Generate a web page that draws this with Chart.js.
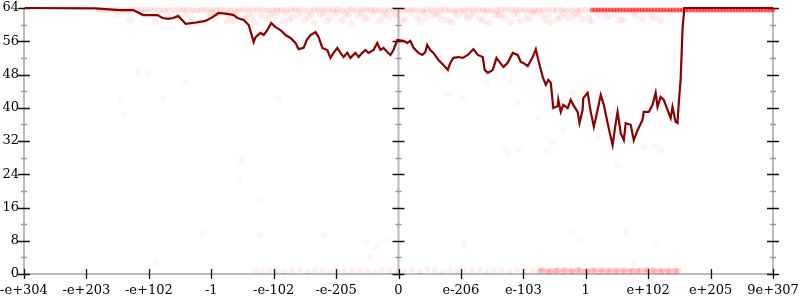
<!DOCTYPE html>
<html>
<head>
<meta charset="utf-8">
<script src="https://cdn.jsdelivr.net/npm/chart.js@4.4.0/dist/chart.umd.min.js"></script>
<style>
  html, body { margin: 0; padding: 0; background: #fff; }
  #chart { display: block; }
</style>
</head>
<body>
<canvas id="chart" width="800" height="300"></canvas>
<script>
// x axis is an ordinal float-bits scale: one tick per unit
const xTickValues = [-6, -5, -4, -3, -2, -1, 0, 1, 2, 3, 4, 5, 6];
const xTickLabels = ['-e+304', '-e+203', '-e+102', '-1', '-e-102', '-e-205', '0', 'e-206', 'e-103', '1', 'e+102', 'e+205', '9e+307'];
const yTickValues = [0, 8, 16, 24, 32, 40, 48, 56, 64];
const yMinorValues = [4, 12, 20, 28, 36, 44, 52, 60];

// main (dark red) curve
const lineX = [-5.99, -4.86, -4.46, -4.25, -4.09, -3.86, -3.78, -3.69, -3.61, -3.53, -3.41, -3.29, -3.09, -2.98, -2.88, -2.74, -2.64, -2.58,
  -2.48, -2.40, -2.32, -2.29, -2.21, -2.16, -2.10, -2.04, -1.97, -1.89, -1.81, -1.73, -1.65, -1.60, -1.52, -1.47, -1.41, -1.33, -1.28,
  -1.22, -1.14, -1.09, -1.04, -0.98, -0.93, -0.88, -0.82, -0.77, -0.69, -0.64, -0.58, -0.53, -0.48, -0.40, -0.34, -0.29, -0.24, -0.18,
  -0.13, -0.08, -0.02, 0.08, 0.14, 0.19, 0.24, 0.32, 0.38, 0.43, 0.46, 0.51, 0.56, 0.64, 0.72, 0.79, 0.83, 0.88, 0.96, 1.03, 1.11,
  1.20, 1.27, 1.35, 1.38, 1.43, 1.51, 1.57, 1.63, 1.68, 1.75, 1.83, 1.91, 1.96, 2.00, 2.07, 2.15, 2.20, 2.24, 2.31, 2.36, 2.40, 2.44,
  2.48, 2.55, 2.56, 2.60, 2.64, 2.71, 2.76, 2.80, 2.87, 2.90, 2.95, 2.96, 3.03, 3.08, 3.13, 3.19, 3.24, 3.29, 3.35, 3.40, 3.43, 3.48,
  3.51, 3.56, 3.61, 3.64, 3.72, 3.77, 3.83, 3.91, 3.93, 4.01, 4.07, 4.12, 4.15, 4.20, 4.25, 4.31, 4.36, 4.39, 4.44, 4.47, 4.49, 4.52,
  4.55, 4.58, 6.0];
const lineY = [64.0, 63.9, 63.5, 63.5, 62.3, 62.3, 61.6, 61.4, 61.6, 62.1, 60.2, 60.4, 60.9, 61.8, 62.8, 62.6, 62.3, 61.6,
  61.1, 59.9, 55.8, 57.0, 58.0, 57.5, 58.7, 60.4, 59.4, 58.7, 57.5, 56.8, 55.6, 54.1, 54.4, 56.3, 57.5, 58.2, 57.0,
  54.4, 53.9, 52.0, 53.2, 54.4, 53.2, 52.2, 53.2, 52.0, 53.2, 52.2, 53.2, 53.9, 53.2, 53.9, 55.6, 53.9, 54.4, 53.4,
  52.7, 53.9, 56.3, 56.1, 55.6, 56.1, 54.4, 53.2, 52.7, 53.4, 55.1, 53.9, 53.2, 51.5, 50.3, 49.1, 50.8, 52.0, 52.2, 52.0, 52.7,
  54.1, 52.7, 52.2, 49.1, 48.4, 49.1, 52.0, 50.8, 49.8, 50.8, 53.2, 52.7, 51.0, 50.8, 50.0, 52.2, 54.1, 51.5, 47.4, 45.5, 46.7, 46.0,
  39.9, 40.4, 41.9, 39.0, 40.7, 39.9, 41.9, 40.7, 39.0, 36.3, 39.5, 42.3, 43.6, 39.0, 35.4, 39.5, 43.1, 40.7, 36.3, 33.0, 31.0, 36.3,
  39.0, 33.9, 32.2, 36.3, 35.9, 32.2, 34.6, 37.1, 39.0, 39.0, 40.7, 43.6, 40.2, 42.6, 41.9, 39.5, 37.5, 40.2, 36.6, 36.3, 41.1, 46.7,
  58.7, 64.0, 64.0];

// faint samples just under the top
const cloudX = [-4.5, -4.3, -4.1, -3.9, -3.7, -3.55, -3.4, -3.2, -3.05, -2.9, -2.75, -2.6, -2.45, -2.3, -2.2, -2.1, -1.95, -1.85, -1.7,
  -1.6, -1.5, -1.35, -1.25, -1.1, -1.0, -0.9, -0.75, -0.65, -0.5, -0.4, -0.3, -0.15, -0.05, 0.1, 0.2, 0.35, 0.45, 0.6, 0.7, 0.85,
  0.95, 1.1, 1.2, 1.35, 1.45, 1.6, 1.7, 1.85, 1.95, 2.1, 2.2, 2.35, 2.45, 2.6, 2.7, 2.85, 2.95, 3.1, 3.2, 3.35, 3.45, 3.6, 3.75,
  3.9, 4.05, 4.2, 4.35,
  -3.3, -2.95, -2.65, -2.35, -2.05, -1.75, -1.45, -1.15, -0.85, -0.55, -0.25, 0.05, 0.3, 0.55, 0.8, 1.05, 1.3, 1.55, 1.8, 2.05,
  2.3, 2.55, 2.8, 3.05, 3.3, 3.55, 3.8, 4.1,
  -3.0, -2.7, -2.4, -2.0, -1.8, -1.4, -1.2, -0.8, -0.6, -0.2, 0.0, 0.4, 0.65, 0.9, 1.15, 1.4, 1.65, 1.9, 2.15, 2.4, 2.65, 2.9];
const cloudY = [62.6, 61.2, 62.9, 60.8, 62.1, 61.6, 62.8, 60.5, 61.9, 62.4, 61.0, 62.7, 61.5, 60.6, 62.2, 61.4, 62.9, 60.9, 61.8,
  62.5, 61.1, 60.4, 62.3, 61.7, 62.8, 61.0, 60.3, 62.1, 61.6, 62.7, 60.8, 61.9, 62.4, 61.3, 62.8, 60.7, 61.8, 62.5, 61.2, 60.6,
  62.2, 61.5, 62.9, 61.0, 60.4, 62.3, 61.7, 62.6, 60.9, 61.4, 62.8, 61.1, 60.5, 62.0, 61.6, 62.7, 61.3, 60.8, 62.4, 61.9, 62.6,
  61.2, 62.9, 61.5, 62.2, 61.0, 62.6,
  61.4, 62.2, 60.7, 61.9, 62.6, 61.2, 62.0, 60.9, 62.5, 61.5, 62.1, 60.8, 61.7, 62.4, 61.1, 62.7, 61.6, 62.3, 60.6, 61.8,
  62.5, 61.3, 62.0, 61.6, 62.8, 61.1, 62.2, 61.7,
  62.9, 62.0, 62.7, 61.7, 62.9, 62.4, 62.8, 62.2, 62.9, 62.6, 62.3, 62.9, 62.5, 62.8, 62.1, 62.9, 62.4, 62.7, 62.9, 62.3, 62.8, 62.5];

// thin rim of samples right at the top edge
const rimX = [-4.8, -4.65, -4.5, -4.35, -4.2, -4.05, -3.9, -3.75, -3.6, -3.45, -3.3, -3.15, -3.0, -2.85, -2.7, -2.55, -2.4, -2.25,
  -2.1, -1.95, -1.8, -1.65, -1.5, -1.35, -1.2, -1.05, -0.9, -0.75, -0.6, -0.45, -0.3, -0.15, 0.0, 0.15, 0.3, 0.45, 0.6, 0.75, 0.9,
  1.05, 1.2, 1.35, 1.5, 1.65, 1.8, 1.95, 2.1, 2.25, 2.4, 2.55, 2.7, 2.85, 3.0,
  -4.72, -4.58, -4.42, -4.28, -4.12, -3.98, -3.82, -3.68, -3.52, -3.38, -3.22, -3.08, -2.92, -2.78, -2.62, -2.48, -2.32, -2.18,
  -2.02, -1.88, -1.72, -1.58, -1.42, -1.28, -1.12, -0.98, -0.82, -0.68, -0.52, -0.38, -0.22, -0.08, 0.08, 0.22, 0.38, 0.52, 0.68,
  0.82, 0.98, 1.12, 1.28, 1.42, 1.58, 1.72, 1.88, 2.02, 2.18, 2.32, 2.48, 2.62, 2.78, 2.92];
const rimY = [63.6, 63.5, 63.6, 63.4, 63.6, 63.5, 63.6, 63.4, 63.5, 63.6, 63.4, 63.6, 63.5, 63.6, 63.4, 63.5, 63.6, 63.5,
  63.4, 63.6, 63.5, 63.6, 63.4, 63.5, 63.6, 63.5, 63.4, 63.6, 63.5, 63.6, 63.4, 63.5, 63.6, 63.5, 63.4, 63.6, 63.5, 63.6, 63.4,
  63.5, 63.6, 63.5, 63.4, 63.6, 63.5, 63.6, 63.4, 63.5, 63.6, 63.5, 63.4, 63.6, 63.5,
  63.5, 63.6, 63.4, 63.5, 63.6, 63.5, 63.4, 63.6, 63.5, 63.6, 63.4, 63.5, 63.6, 63.5, 63.4, 63.6, 63.5, 63.6,
  63.4, 63.5, 63.6, 63.5, 63.4, 63.6, 63.5, 63.6, 63.4, 63.5, 63.6, 63.5, 63.4, 63.6, 63.5, 63.6, 63.4, 63.5, 63.6,
  63.5, 63.4, 63.6, 63.5, 63.6, 63.4, 63.5, 63.6, 63.5, 63.4, 63.6, 63.5, 63.6, 63.4, 63.5];
const edgeX = [3.1, 3.15, 3.2, 3.25, 3.3, 3.35, 3.4, 3.45, 3.5, 3.55, 3.6, 3.65, 3.7, 3.75, 3.8, 3.85, 3.9, 3.95, 4.0, 4.05, 4.1,
  4.15, 4.2, 4.25, 4.3, 4.35, 4.4, 4.45, 4.5, 4.55, 4.6, 4.65, 4.7, 4.75, 4.8, 4.85, 4.9, 4.95, 5.0, 5.05, 5.1, 5.15, 5.2, 5.25,
  5.3, 5.35, 5.4, 5.45, 5.5, 5.55, 5.6, 5.65, 5.7, 5.75, 5.8, 5.85, 5.9, 5.95, 6.0];
const edgeY = [63.5, 63.5, 63.5, 63.5, 63.5, 63.5, 63.5, 63.5, 63.5, 63.5, 63.5, 63.5, 63.5, 63.5, 63.5, 63.5, 63.5, 63.5, 63.5,
  63.5, 63.5, 63.5, 63.5, 63.5, 63.5, 63.5, 63.5, 63.5, 63.5, 63.5, 63.5, 63.5, 63.5, 63.5, 63.5, 63.5, 63.5, 63.5, 63.5, 63.5,
  63.5, 63.5, 63.5, 63.5, 63.5, 63.5, 63.5, 63.5, 63.5, 63.5, 63.5, 63.5, 63.5, 63.5, 63.5, 63.5, 63.5, 63.5, 63.5];

// samples along the bottom
const bottomX = [-2.3, -2.18, -2.06, -1.94, -1.82, -1.7, -1.58, -1.46, -1.34, -1.22, -1.1, -0.98, -0.86, -0.74, -0.62, -0.5, -0.38,
  -0.26, -0.14, -0.02, 0.1, 0.22, 0.34, 0.46, 0.58, 0.7, 0.82, 0.94, 1.06, 1.18, 1.3, 1.42, 1.54, 1.66, 1.78, 1.9, 2.02, 2.14];
const bottomY = [0.8, 0.6, 0.9, 0.7, 0.5, 0.8, 0.9, 0.6, 0.7, 0.9, 0.5, 0.8, 0.6, 0.9, 0.7, 0.8, 0.5, 0.9, 0.6, 0.8, 0.7,
  0.9, 0.6, 1.1, 0.8, 0.5, 0.9, 0.7, 0.6, 0.8, 0.9, 0.5, 0.7, 0.8, 0.6, 0.9, 0.7, 0.8];
const bottomDenseX = [2.26, 2.32, 2.38, 2.44, 2.5, 2.56, 2.62, 2.68, 2.74, 2.8, 2.86, 2.92, 2.98, 3.04, 3.1, 3.16, 3.22, 3.28,
  3.34, 3.4, 3.46, 3.52, 3.58, 3.64, 3.7, 3.76, 3.82, 3.88, 3.94, 4.0, 4.06, 4.12, 4.18, 4.24, 4.3, 4.36, 4.42, 4.48,
  2.29, 2.41, 2.53, 2.65, 2.77, 2.89, 3.01, 3.13, 3.25, 3.37, 3.49, 3.61, 3.73, 3.85, 3.97, 4.09, 4.21, 4.33, 4.45];
const bottomDenseY = [0.7, 0.9, 0.6, 0.8, 0.7, 0.9, 0.5, 0.8, 0.7, 0.6, 0.9, 0.8, 0.6, 0.7, 0.9, 0.8, 0.5, 0.7, 0.8, 0.9,
  0.6, 0.7, 0.8, 0.9, 0.6, 0.8, 0.7, 0.9, 0.5, 0.8, 0.7, 0.6, 0.9, 0.8, 0.7, 0.6, 0.8, 0.7,
  0.9, 0.6, 0.8, 1.0, 0.7, 0.9, 0.6, 0.8, 1.0, 0.7, 0.9, 0.6, 0.8, 0.7, 1.0, 0.9, 0.6, 0.8, 0.7];

// scattered stray samples
const strayX = [-4.18, -4.01, -3.41, -3.78, -1.92, 1.79, 1.41, 0.80, 1.03, -3.14, -3.89, -2.21, -1.20, -0.50, -0.37, -0.45, -0.18,
  1.03, 1.06, 2.76, 3.64, 2.92, 4.13, 3.77, 1.91, 2.23, 2.64, 2.47, 1.67, 1.76, 1.92, 2.36, 2.79, 3.19, 3.93, 4.12, 4.20, 3.51,
  -4.46, -4.39, -2.53, -2.56, -2.24];
const strayY = [48.6, 48.4, 46.2, 42.3, 42.3, 46.4, 46.0, 43.1, 42.6, 10.1, 2.6, 9.4, 9.4, 7.5, 6.5, 4.3, 8.2,
  7.5, 6.5, 10.1, 10.1, 8.2, 7.5, 2.6, 41.1, 37.5, 34.6, 31.5, 30.3, 29.1, 29.8, 29.6, 43.6, 33.0, 30.6, 31.0, 29.6, 26.2,
  41.9, 38.5, 27.4, 22.6, 17.8];

const pts = (xs, ys) => xs.map((x, i) => ({ x, y: ys[i] }));

const cloudSet = (data, alpha, radius, order) => ({
  type: 'scatter',
  data,
  pointRadius: radius,
  pointBorderWidth: 0,
  pointBackgroundColor: `rgba(255,0,0,${alpha})`,
  pointBorderColor: 'transparent',
  clip: false,
  order,
});

const axesPlugin = {
  id: 'axesPlugin',
  beforeDatasetsDraw(chart) {
    const { ctx, chartArea: a, scales } = chart;
    const sx = scales.x, sy = scales.y;
    const axisXs = [sx.getPixelForValue(-6), sx.getPixelForValue(0), sx.getPixelForValue(6)];
    const yBottom = sy.getPixelForValue(0);
    ctx.save();

    // gray axis lines
    ctx.strokeStyle = '#bbbbbb';
    ctx.lineWidth = 2;
    ctx.beginPath();
    axisXs.forEach(px => { ctx.moveTo(px, a.top); ctx.lineTo(px, a.bottom); });
    ctx.moveTo(a.left, yBottom);
    ctx.lineTo(a.right, yBottom);
    ctx.stroke();

    // y ticks on all three vertical axes
    ctx.lineWidth = 1.3;
    ctx.strokeStyle = '#999999';
    ctx.beginPath();
    yMinorValues.forEach(v => {
      const py = Math.round(sy.getPixelForValue(v)) + 0.5;
      axisXs.forEach(px => { ctx.moveTo(px - 3, py); ctx.lineTo(px + 3, py); });
    });
    ctx.stroke();
    ctx.strokeStyle = '#111111';
    ctx.beginPath();
    yTickValues.forEach(v => {
      const py = Math.round(sy.getPixelForValue(v)) + 0.5;
      axisXs.forEach(px => { ctx.moveTo(px - 6, py); ctx.lineTo(px + 6, py); });
    });
    // x ticks
    xTickValues.forEach(v => {
      const px = Math.round(sx.getPixelForValue(v)) + 0.5;
      ctx.moveTo(px, yBottom - 5);
      ctx.lineTo(px, yBottom + 5);
    });
    ctx.stroke();

    // labels
    ctx.fillStyle = '#000';
    ctx.font = '13px "DejaVu Serif", serif';
    ctx.textAlign = 'right';
    ctx.textBaseline = 'middle';
    yTickValues.forEach(v => ctx.fillText(String(v), a.left - 5, sy.getPixelForValue(v)));
    ctx.textAlign = 'center';
    xTickValues.forEach((v, i) => ctx.fillText(xTickLabels[i], sx.getPixelForValue(v), yBottom + 17));
    ctx.restore();
  },
};

new Chart(document.getElementById('chart'), {
  type: 'scatter',
  data: {
    datasets: [
      {
        type: 'line',
        data: pts(lineX, lineY),
        borderColor: '#8b0000',
        borderWidth: 2.2,
        pointRadius: 0,
        tension: 0,
        fill: false,
        clip: 3,
        order: 0,
      },
      cloudSet(pts(edgeX, edgeY), 0.55, 2.5, 1),
      cloudSet(pts(rimX, rimY), 0.11, 3, 2),
      cloudSet(pts(cloudX, cloudY), 0.065, 3.5, 3),
      cloudSet(pts(bottomDenseX, bottomDenseY), 0.14, 3, 4),
      cloudSet(pts(bottomX, bottomY), 0.06, 3, 5),
      cloudSet(pts(strayX, strayY), 0.035, 3.5, 6),
    ],
  },
  plugins: [axesPlugin],
  options: {
    responsive: false,
    animation: false,
    layout: { padding: { left: 24, right: 27, top: 8, bottom: 26 } },
    plugins: { legend: { display: false }, tooltip: { enabled: false } },
    scales: {
      x: { type: 'linear', min: -6, max: 6, display: false },
      y: { type: 'linear', min: 0, max: 64, display: false },
    },
  },
});
</script>
</body>
</html>
